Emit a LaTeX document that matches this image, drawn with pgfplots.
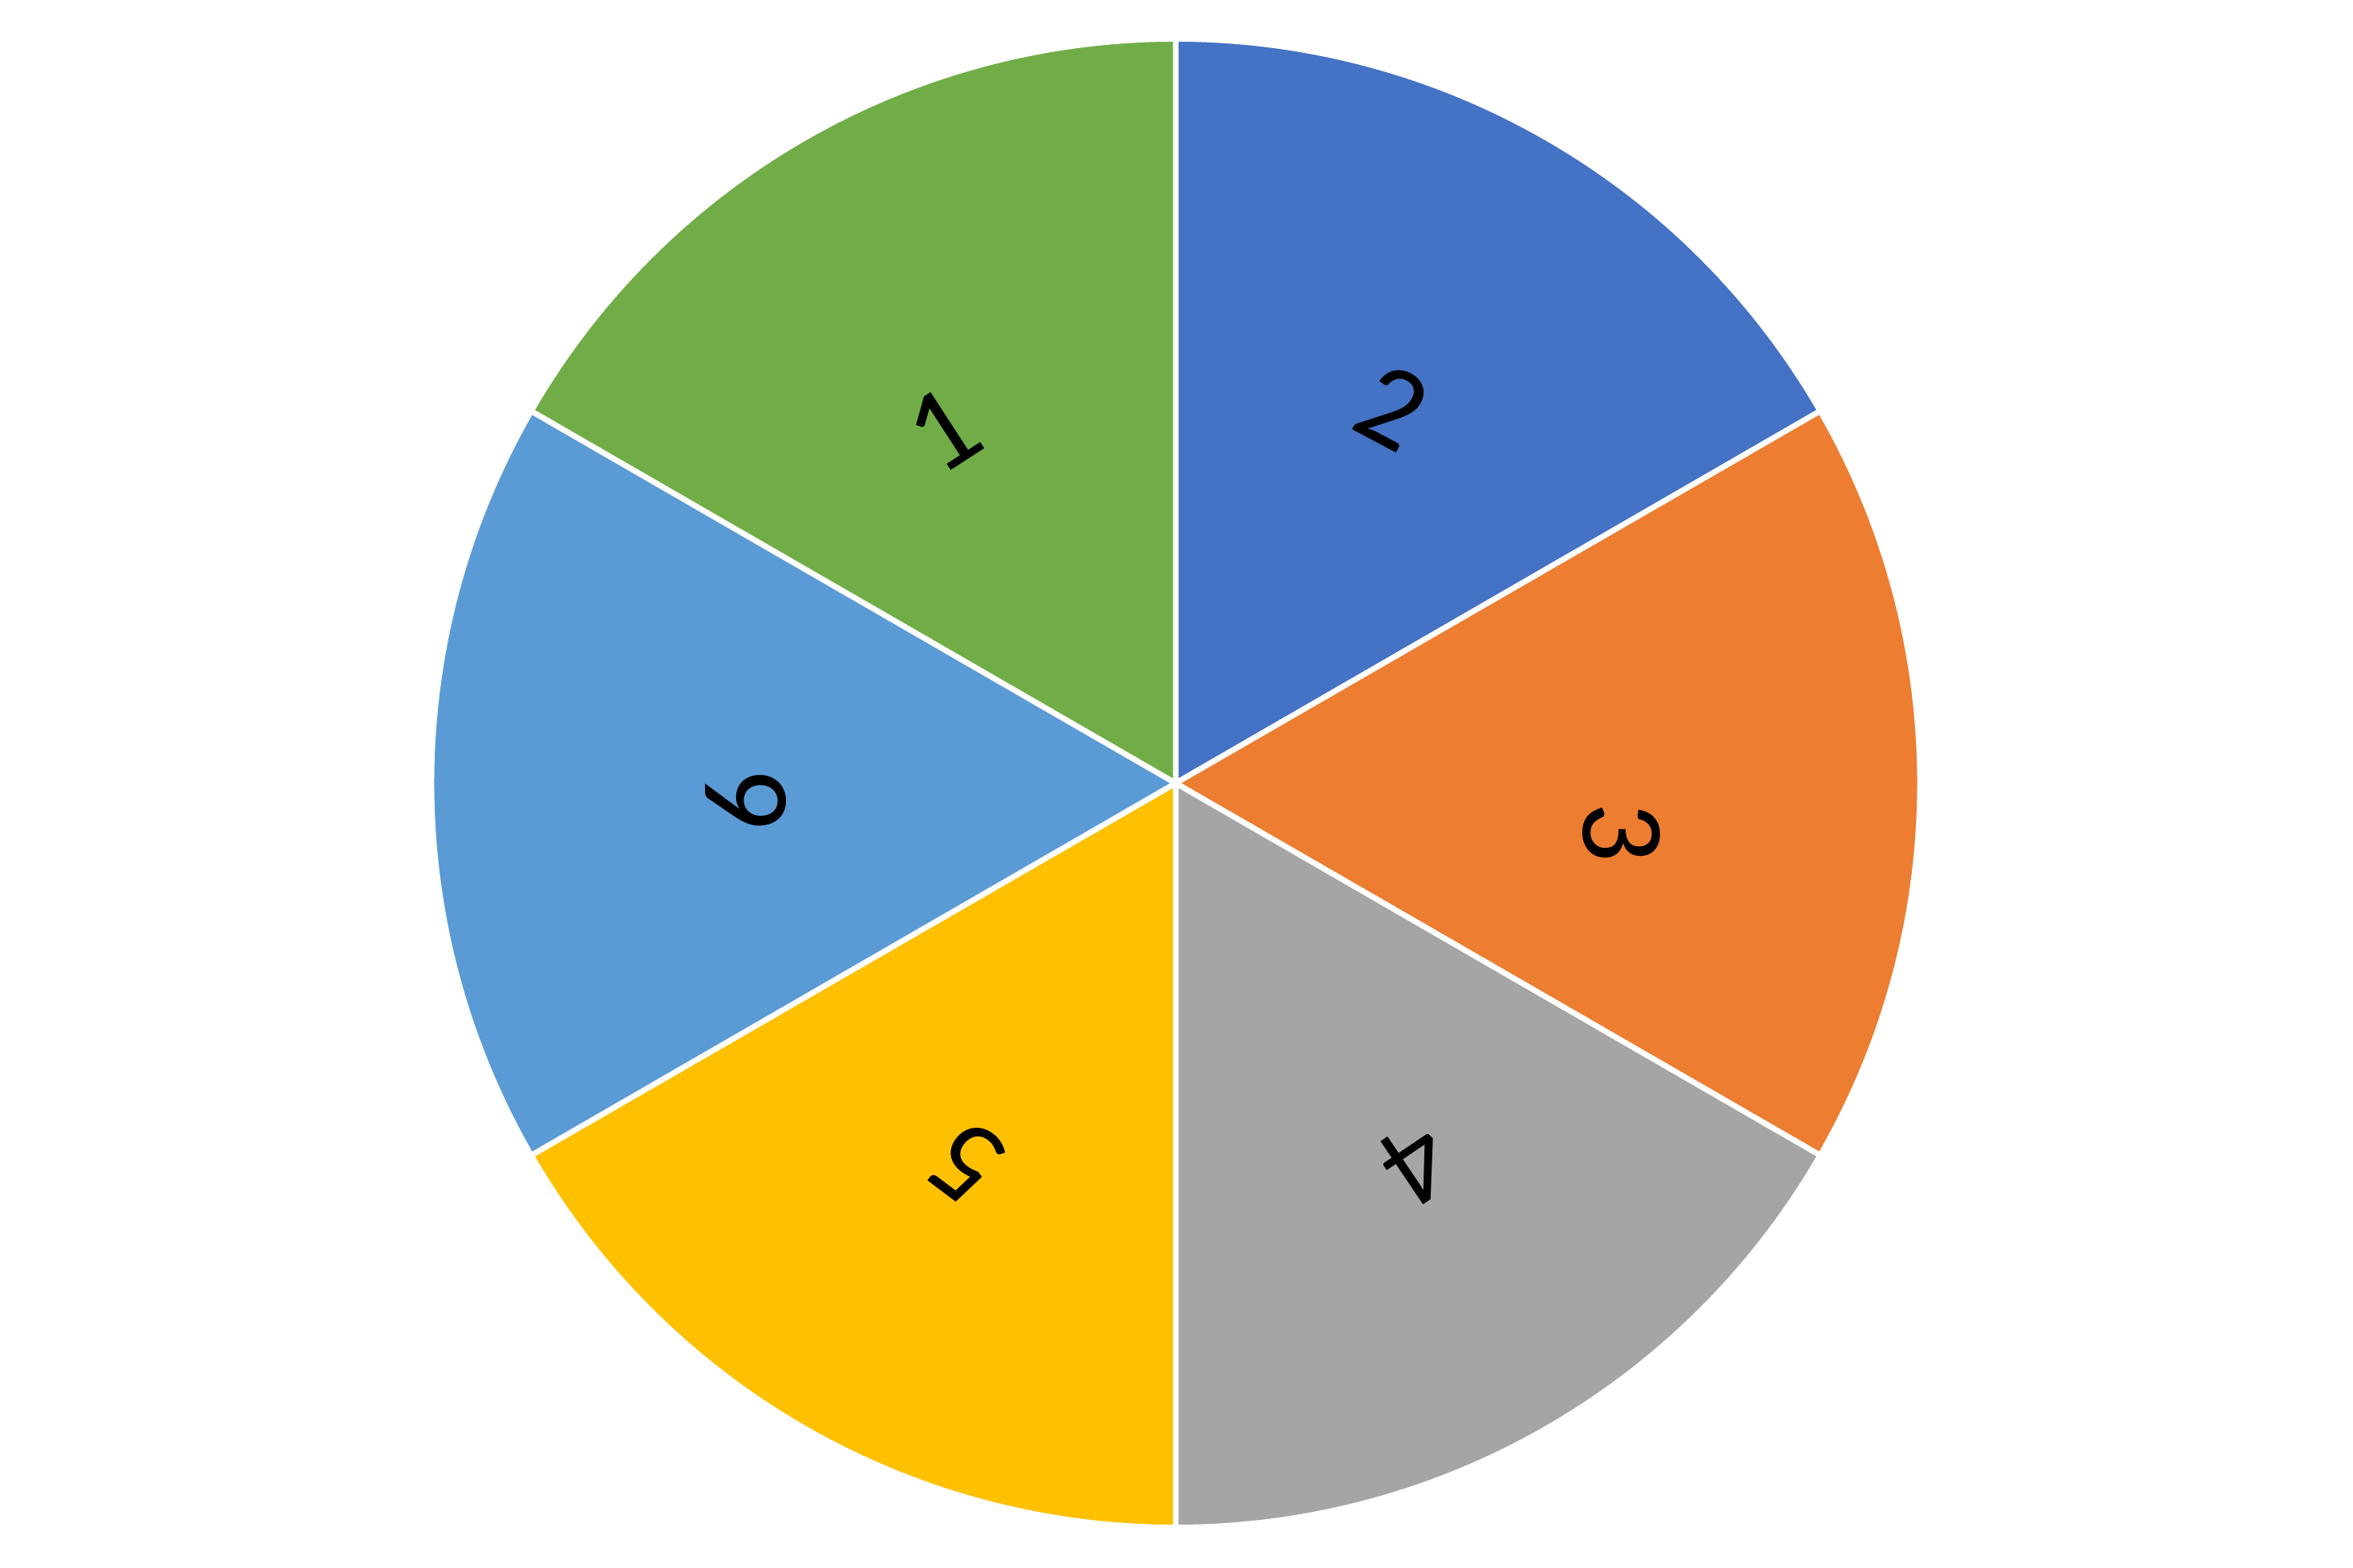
\documentclass[border=0pt]{standalone}
\usepackage{fontspec}
\setmainfont{Carlito}
\usepackage{pgfplots}
\pgfplotsset{compat=1.18}
\definecolor{cBlue}{HTML}{4472C4}
\definecolor{cOrange}{HTML}{ED7D31}
\definecolor{cGray}{HTML}{A5A5A5}
\definecolor{cGold}{HTML}{FFC000}
\definecolor{cLBlue}{HTML}{5B9BD5}
\definecolor{cGreen}{HTML}{70AD47}
\begin{document}
\begin{tikzpicture}
\begin{axis}[hide axis, scale only axis, width=15cm, height=9.995cm,
  xmin=0, xmax=2934, ymin=0, ymax=1955, clip=false]
% six equal values (1 each) -> 60 degrees per slice, starting at 90 deg, clockwise
\addplot[draw=none] coordinates {(0,0) (2934,1955)};
\addplot[fill=cBlue, draw=white, line width=1pt, domain=30:90, samples=61, variable=\t]
  ({1466+928*cos(\t)},{978.5+928*sin(\t)}) -- (axis cs:1466,978.5) -- cycle;
\addplot[fill=cOrange, draw=white, line width=1pt, domain=-30:30, samples=61, variable=\t]
  ({1466+928*cos(\t)},{978.5+928*sin(\t)}) -- (axis cs:1466,978.5) -- cycle;
\addplot[fill=cGray, draw=white, line width=1pt, domain=-90:-30, samples=61, variable=\t]
  ({1466+928*cos(\t)},{978.5+928*sin(\t)}) -- (axis cs:1466,978.5) -- cycle;
\addplot[fill=cGold, draw=white, line width=1pt, domain=210:270, samples=61, variable=\t]
  ({1466+928*cos(\t)},{978.5+928*sin(\t)}) -- (axis cs:1466,978.5) -- cycle;
\addplot[fill=cLBlue, draw=white, line width=1pt, domain=150:210, samples=61, variable=\t]
  ({1466+928*cos(\t)},{978.5+928*sin(\t)}) -- (axis cs:1466,978.5) -- cycle;
\addplot[fill=cGreen, draw=white, line width=1pt, domain=90:150, samples=61, variable=\t]
  ({1466+928*cos(\t)},{978.5+928*sin(\t)}) -- (axis cs:1466,978.5) -- cycle;
\node[rotate=33, font=\fontsize{21.5}{24}\selectfont] at (axis cs:1176,1419) {1};
\node[rotate=-28, font=\fontsize{21.5}{24}\selectfont] at (axis cs:1736,1447) {2};
\node[rotate=-90, font=\fontsize{21.5}{24}\selectfont] at (axis cs:2022,917) {3};
\node[rotate=-146, font=\fontsize{21.5}{24}\selectfont] at (axis cs:1766,504) {4};
\node[rotate=143, font=\fontsize{21.5}{24}\selectfont] at (axis cs:1206,506) {5};
\node[rotate=90, font=\fontsize{21.5}{24}\selectfont] at (axis cs:930,956) {6};
\end{axis}
\end{tikzpicture}
\end{document}
